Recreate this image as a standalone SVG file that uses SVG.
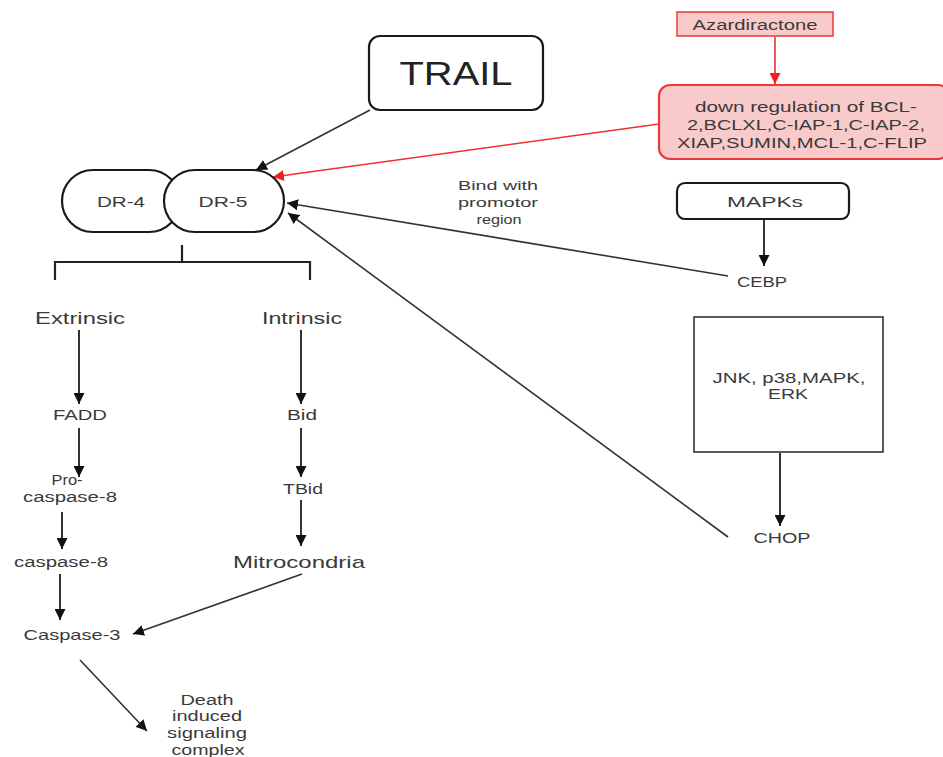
<svg xmlns="http://www.w3.org/2000/svg" width="943" height="757" viewBox="0 0 943 757">
<defs>
<style>
text{font-family:"Liberation Sans",Arial,sans-serif;fill:#3a3a3a;text-anchor:middle;font-size:14px}
.s13{font-size:13px}
.s15{font-size:15px}
.s17{font-size:17px}
.big{font-size:33px;fill:#222}
.box{fill:#fff;stroke:#1a1a1a;stroke-width:2.2}
.pink{fill:#f8caca;stroke:#e83a3a}
.ln{stroke:#333;stroke-width:1.6;fill:none;marker-end:url(#ah)}
.v{stroke:#333;stroke-width:2;fill:none;marker-end:url(#ah)}
.red{stroke:#f03030;stroke-width:1.6;fill:none;marker-end:url(#ahr)}
</style>
<marker id="ah" viewBox="0 0 10 10" refX="10" refY="5" markerWidth="11" markerHeight="11" markerUnits="userSpaceOnUse" orient="auto"><path d="M0,0 L10,5 L0,10 z" fill="#111"/></marker>
<marker id="ahr" viewBox="0 0 10 10" refX="10" refY="5" markerWidth="11" markerHeight="11" markerUnits="userSpaceOnUse" orient="auto"><path d="M0,0 L10,5 L0,10 z" fill="#f02020"/></marker>
</defs>
<rect width="943" height="757" fill="#fff"/>

<g id="connectors">
<line class="ln" x1="370" y1="110" x2="256" y2="170"/>
<line class="red" x1="775" y1="37" x2="775" y2="84"/>
<line class="red" x1="659" y1="124" x2="273" y2="177"/>
<line class="ln" x1="728" y1="276" x2="287" y2="203"/>
<line class="ln" x1="728" y1="537" x2="288" y2="213"/>
<line class="v" x1="764" y1="220" x2="764" y2="266"/>
<line class="v" x1="780" y1="453" x2="780" y2="526"/>
<path d="M182,245 V262 M55,280 V262 H310 V280" stroke="#222" stroke-width="2.2" fill="none"/>
<line class="v" x1="79" y1="330" x2="79" y2="404"/>
<line class="v" x1="79" y1="428" x2="79" y2="477"/>
<line class="v" x1="62" y1="512" x2="62" y2="549"/>
<line class="v" x1="60" y1="574" x2="60" y2="620"/>
<line class="v" x1="301" y1="330" x2="301" y2="404"/>
<line class="v" x1="301" y1="428" x2="301" y2="477"/>
<line class="v" x1="301" y1="500" x2="301" y2="546"/>
<line class="ln" x1="302" y1="574" x2="133" y2="634"/>
<line class="ln" x1="80" y1="660" x2="147" y2="731"/>
</g>

<g id="trail"><rect class="box" x="369" y="36" width="174" height="74" rx="11"/><text class="big" x="456" y="85" textLength="113" lengthAdjust="spacingAndGlyphs">TRAIL</text></g>
<g id="azardiractone"><rect class="pink" x="677" y="12" width="156" height="24" stroke-width="1.5"/><text x="755" y="30" textLength="125" lengthAdjust="spacingAndGlyphs">Azardiractone</text></g>
<g id="downreg"><rect class="pink" x="659" y="85" width="290" height="74" rx="11" stroke-width="2.2"/>
<text class="s15" x="806" y="112" textLength="222" lengthAdjust="spacingAndGlyphs">down regulation of BCL-</text>
<text class="s15" x="806" y="130" textLength="238" lengthAdjust="spacingAndGlyphs">2,BCLXL,C-IAP-1,C-IAP-2,</text>
<text class="s15" x="802" y="148" textLength="250" lengthAdjust="spacingAndGlyphs">XIAP,SUMIN,MCL-1,C-FLIP</text></g>
<g id="dr4"><rect class="box" x="62" y="170" width="118" height="62" rx="31"/><text class="s15" x="121" y="207" textLength="48" lengthAdjust="spacingAndGlyphs">DR-4</text></g>
<g id="dr5"><rect class="box" x="164" y="170" width="120" height="62" rx="31"/><text class="s15" x="223" y="207" textLength="49" lengthAdjust="spacingAndGlyphs">DR-5</text></g>
<g id="bind"><text class="s13" x="498" y="190" textLength="80" lengthAdjust="spacingAndGlyphs">Bind with</text><text class="s13" x="498" y="207" textLength="80" lengthAdjust="spacingAndGlyphs">promotor</text><text class="s13" x="499" y="224" textLength="45" lengthAdjust="spacingAndGlyphs">region</text></g>
<g id="mapks"><rect class="box" x="677" y="183" width="172" height="36" rx="8"/><text x="765" y="207" textLength="76" lengthAdjust="spacingAndGlyphs">MAPKs</text></g>
<g id="cebp"><text x="762" y="287" textLength="50" lengthAdjust="spacingAndGlyphs">CEBP</text></g>
<g id="jnk"><rect x="694" y="317" width="189" height="135" fill="#fff" stroke="#333" stroke-width="1.6"/><text x="789" y="383" textLength="153" lengthAdjust="spacingAndGlyphs">JNK, p38,MAPK,</text><text x="788" y="399" textLength="40" lengthAdjust="spacingAndGlyphs">ERK</text></g>
<g id="chop"><text x="782" y="543" textLength="57" lengthAdjust="spacingAndGlyphs">CHOP</text></g>
<g id="extrinsic"><text class="s17" x="80" y="324" textLength="90" lengthAdjust="spacingAndGlyphs">Extrinsic</text></g>
<g id="intrinsic"><text class="s17" x="302" y="324" textLength="80" lengthAdjust="spacingAndGlyphs">Intrinsic</text></g>
<g id="fadd"><text x="80" y="420" textLength="54" lengthAdjust="spacingAndGlyphs">FADD</text></g>
<g id="bid"><text x="302" y="420" textLength="30" lengthAdjust="spacingAndGlyphs">Bid</text></g>
<g id="tbid"><text x="303" y="494" textLength="40" lengthAdjust="spacingAndGlyphs">TBid</text></g>
<g id="procasp8"><text class="s15" x="67" y="485" textLength="31" lengthAdjust="spacingAndGlyphs">Pro-</text><text x="70" y="502" textLength="94" lengthAdjust="spacingAndGlyphs">caspase-8</text></g>
<g id="casp8"><text x="61" y="567" textLength="94" lengthAdjust="spacingAndGlyphs">caspase-8</text></g>
<g id="mito"><text class="s17" x="299" y="568" textLength="132" lengthAdjust="spacingAndGlyphs">Mitrocondria</text></g>
<g id="casp3"><text class="s15" x="72" y="640" textLength="97" lengthAdjust="spacingAndGlyphs">Caspase-3</text></g>
<g id="disc"><text x="207" y="705" textLength="53" lengthAdjust="spacingAndGlyphs">Death</text><text x="207" y="721" textLength="70" lengthAdjust="spacingAndGlyphs">induced</text><text x="207" y="738" textLength="80" lengthAdjust="spacingAndGlyphs">signaling</text><text x="208" y="755" textLength="73" lengthAdjust="spacingAndGlyphs">complex</text></g>
</svg>
